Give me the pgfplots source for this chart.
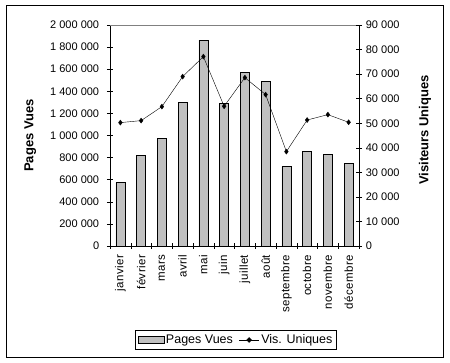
\documentclass[border=0pt]{standalone}
\usepackage{fontspec}
\setmainfont{Liberation Sans}
\usepackage{pgfplots}
\pgfplotsset{compat=1.18}
\definecolor{bargray}{RGB}{192,192,192}
\begin{document}
\begin{tikzpicture}
\fontsize{11}{12}\selectfont
\path[use as bounding box] (0,0) rectangle (450pt,363pt);
\draw[black] (6pt,6pt) rectangle (443pt,358pt);
\begin{axis}[
  at={(110pt,117pt)}, anchor=south west,
  scale only axis, width=249pt, height=221pt,
  xmin=-0.5, xmax=11.5, ymin=0, ymax=2000000,
  axis y line*=left, axis x line*=bottom,
  axis line style={-, black},
  tick align=center, major tick length=6pt,
  tick style={black, thin},
  xtick={-0.5,0.5,...,11.5}, xticklabels={},
  extra x ticks={0,1,...,11},
  extra x tick labels={janvier,février,mars,avril,mai,juin,juillet,août,septembre,octobre,novembre,décembre},
  extra x tick style={major tick length=0pt, tick label style={rotate=90, anchor=east, font=\fontsize{11.5}{12}\selectfont\addfontfeature{LetterSpace=4}}},
  xticklabel shift=5pt,
  ytick={0,200000,...,2000000},
  scaled y ticks=false,
  yticklabels={0,200 000,400 000,600 000,800 000,1 000 000,1 200 000,1 400 000,1 600 000,1 800 000,2 000 000},
  yticklabel style={font=\fontsize{11}{12}\selectfont},
  yticklabel shift=4pt,
  ylabel={\bfseries Pages Vues},
  ylabel style={at={(axis description cs:-0.32,0.5)}, anchor=center, font=\fontsize{13}{15}\selectfont},
  legend style={at={(axis description cs:0.506,-0.425)}, anchor=center, legend columns=2, draw=black, font=\fontsize{12.5}{14}\selectfont, inner sep=2pt, /tikz/every even column/.append style={column sep=4pt}},
  legend cell align=left,
  clip=false,
]
\draw[gray] (rel axis cs:0,1) -- (rel axis cs:1,1);
\addplot[ybar, bar width=9pt, fill=bargray, draw=black,
  legend image code/.code={\draw[fill=bargray, draw=black] (0pt,-3.5pt) rectangle (26pt,3.5pt);}] coordinates {
(0,574000) (1,821000) (2,972000) (3,1298000) (4,1862000) (5,1289000)
(6,1572000) (7,1490000) (8,719000) (9,854000) (10,827000) (11,746000)};
\addlegendentry{Pages Vues}
\addlegendimage{black, mark=diamond*, mark size=2.5pt, legend image code/.code={\draw[black] (0pt,0pt) -- (20pt,0pt); \fill[black] (10pt,2.5pt) -- (12.5pt,0pt) -- (10pt,-2.5pt) -- (7.5pt,0pt) -- cycle;}}
\addlegendentry{Vis. Uniques}
\end{axis}
\begin{axis}[
  at={(110pt,117pt)}, anchor=south west,
  scale only axis, width=249pt, height=221pt,
  xmin=-0.5, xmax=11.5, ymin=0, ymax=90000,
  axis y line*=right, axis x line=none,
  axis line style={-, black},
  tick align=center, major tick length=6pt,
  tick style={black, thin},
  ytick={0,10000,...,90000},
  scaled y ticks=false,
  yticklabels={0,10 000,20 000,30 000,40 000,50 000,60 000,70 000,80 000,90 000},
  yticklabel style={font=\fontsize{11}{12}\selectfont},
  ylabel={\bfseries Visiteurs Uniques},
  ylabel style={at={(axis description cs:1.265,0.525)}, anchor=center, font=\fontsize{13}{15}\selectfont},
  clip=false,
]
\addplot[black, mark=diamond*, mark size=2.5pt] coordinates {
(0,50250) (1,51060) (2,56760) (3,68980) (4,77120) (5,56900)
(6,68570) (7,61650) (8,38440) (9,51300) (10,53500) (11,50370)};
\end{axis}
\end{tikzpicture}
\end{document}
